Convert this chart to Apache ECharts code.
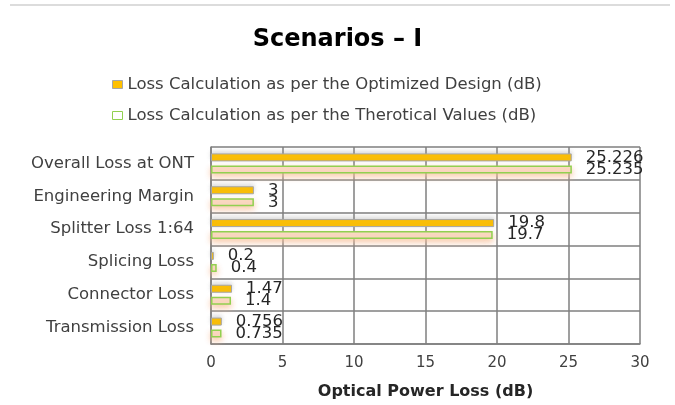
<!DOCTYPE html>
<html>
<head>
  <meta charset="UTF-8">
  <title>Scenarios - I</title>
  <script src="https://cdn.jsdelivr.net/npm/echarts@6/dist/echarts.min.js"></script>
  <style>
    html, body { margin: 0; padding: 0; background: #fff; }
    #main { width: 675px; height: 405px; }
  </style>
</head>
<body>
<div id="main"></div>
<script>
  // categories top to bottom (yAxis is inverted)
  const categories = ['Overall Loss at ONT', 'Engineering Margin', 'Splitter Loss 1:64', 'Splicing Loss', 'Connector Loss', 'Transmission Loss'];
  const optimized = [25.226, 3, 19.8, 0.2, 1.47, 0.756];
  const theoretical = [25.235, 3, 19.7, 0.4, 1.4, 0.735];
  const xTicks = { min: 0, max: 30, interval: 5 };

  const nameOptimized = 'Loss Calculation as per the Optimized Design (dB)';
  const nameTheoretical = 'Loss Calculation as per the Therotical Values (dB)';
  const font = 'DejaVu Sans';

  const chart = echarts.init(document.getElementById('main'), null, { renderer: 'canvas' });
  chart.setOption({
    animation: false,
    title: {
      text: 'Scenarios \u2013 I',
      left: 'center',
      top: 23,
      textStyle: { fontFamily: font, fontSize: 24, fontWeight: 'bold', color: '#000' }
    },
    graphic: [{
      type: 'line',
      shape: { x1: 10, y1: 5, x2: 670, y2: 5 },
      style: { stroke: '#dcdcdc', lineWidth: 2 }
    }],
    legend: {
      orient: 'vertical',
      left: 107,
      top: 71,
      itemGap: 14,
      itemWidth: 10,
      itemHeight: 8,
      icon: 'rect',
      textStyle: { fontFamily: font, fontSize: 16.5, color: '#404040', lineHeight: 16 },
      data: [
        { name: nameOptimized, itemStyle: { color: '#ffc000', borderColor: '#a6a6a6', borderWidth: 1 } },
        { name: nameTheoretical, itemStyle: { color: '#fff', borderColor: '#92d050', borderWidth: 1 } }
      ]
    },
    grid: { left: 211, right: 35, top: 147, bottom: 61, containLabel: false },
    xAxis: {
      type: 'value',
      min: xTicks.min,
      max: xTicks.max,
      interval: xTicks.interval,
      name: 'Optical Power Loss (dB)',
      nameLocation: 'middle',
      nameGap: 40,
      nameTextStyle: { fontFamily: font, fontSize: 16, fontWeight: 'bold', color: '#262626' },
      axisLine: { show: true, lineStyle: { color: '#7f7f7f', width: 1.5 } },
      axisTick: { show: false },
      axisLabel: { fontFamily: font, fontSize: 15, color: '#404040', margin: 12 },
      splitLine: { show: true, lineStyle: { color: '#7f7f7f', width: 1.5 } }
    },
    yAxis: {
      type: 'category',
      inverse: true,
      data: categories,
      axisLine: { show: true, lineStyle: { color: '#7f7f7f', width: 1.5 } },
      axisTick: { show: false },
      axisLabel: { fontFamily: font, fontSize: 16.5, color: '#404040', margin: 17 },
      splitLine: { show: true, lineStyle: { color: '#7f7f7f', width: 1.5 } }
    },
    series: [
      {
        name: nameOptimized,
        type: 'bar',
        data: optimized,
        barWidth: 8,
        barGap: '50%',
        itemStyle: {
          color: '#ffc000',
          borderColor: '#a6a6a6',
          borderWidth: 1,
          shadowColor: 'rgba(150,150,150,0.35)',
          shadowBlur: 4,
          shadowOffsetY: -2
        },
        label: {
          show: true,
          position: 'right',
          distance: 14,
          fontFamily: font,
          fontSize: 16.5,
          color: '#262626'
        }
      },
      {
        name: nameTheoretical,
        type: 'bar',
        data: theoretical,
        barWidth: 8,
        itemStyle: {
          color: '#fbdcc8',
          borderColor: '#92d050',
          borderWidth: 1.5,
          shadowColor: 'rgba(248,190,150,0.85)',
          shadowBlur: 6,
          shadowOffsetY: 3
        },
        label: {
          show: true,
          position: 'right',
          distance: 14,
          fontFamily: font,
          fontSize: 16.5,
          color: '#262626'
        }
      }
    ]
  });
</script>
</body>
</html>
